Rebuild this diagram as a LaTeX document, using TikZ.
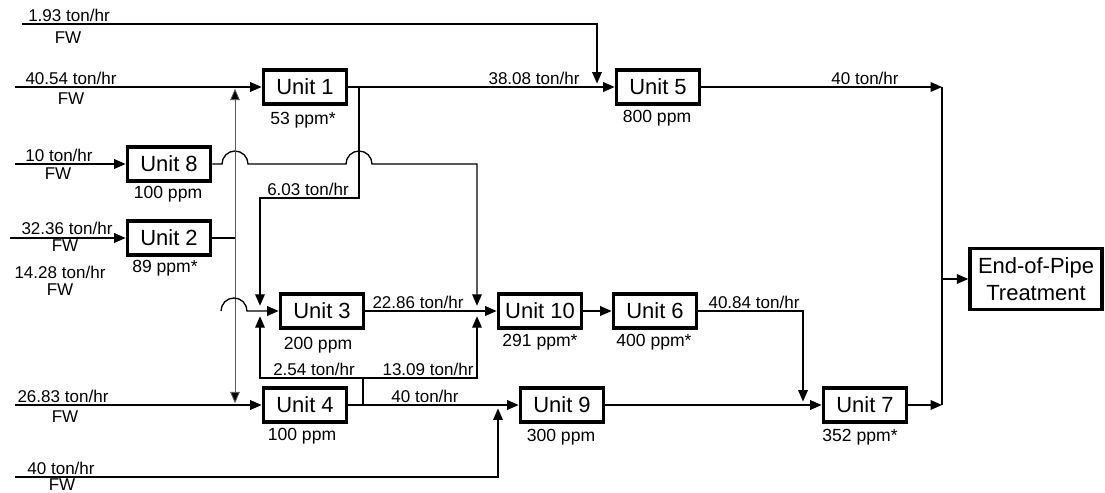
\documentclass[tikz,border=0pt]{standalone}
\usepackage{fontspec}
\setmainfont{Liberation Sans}
\usetikzlibrary{arrows.meta}
\newcommand{\hop}{0.26cm}

\begin{document}
\begin{tikzpicture}[x=0.02cm,y=-0.02cm,
  unit/.style={draw,line width=2.2pt,minimum width=1.66cm,minimum height=0.68cm,inner sep=0pt,font=\fontsize{12.5}{14}\selectfont},
  lbl/.style={anchor=south,inner sep=1pt,font=\fontsize{9.7}{11}\selectfont},
  fwl/.style={inner sep=0pt,font=\fontsize{9.7}{11}\selectfont},
  ppm/.style={inner sep=0pt,font=\fontsize{10}{12}\selectfont},
  pipe/.style={line width=0.75pt},
  flow/.style={pipe,-{Triangle[length=6.5pt,width=5.5pt]}},
  feed/.style={line width=0.5pt,black!65,-{Triangle[length=6.5pt,width=5.5pt,fill=black]}}]
\useasboundingbox (0,0) rectangle (1105,493);

% units
\node[unit] (u1) at (305,87) {Unit 1};
\node[unit] (u8) at (169,164) {Unit 8};
\node[unit] (u2) at (169,238) {Unit 2};
\node[unit] (u3) at (322,311) {Unit 3};
\node[unit] (u4) at (305,405) {Unit 4};
\node[unit] (u5) at (658,87) {Unit 5};
\node[unit] (u10) at (540,311) {Unit 10};
\node[unit] (u6) at (655,311) {Unit 6};
\node[unit] (u9) at (562,405) {Unit 9};
\node[unit] (u7) at (865,405) {Unit 7};
\node[draw,line width=2pt,minimum width=2.64cm,minimum height=1.22cm,align=center,
  font=\fontsize{12.5}{15}\selectfont] (eop) at (1036,279) {End-of-Pipe\\Treatment};

% concentrations
\node[ppm] at (303,120) {53 ppm*};
\node[ppm] at (168,194) {100 ppm};
\node[ppm] at (165,268) {89 ppm*};
\node[ppm] at (318,345) {200 ppm};
\node[ppm] at (302,436) {100 ppm};
\node[ppm] at (657,118) {800 ppm};
\node[ppm] at (540,342) {291 ppm*};
\node[ppm] at (654,342) {400 ppm*};
\node[ppm] at (561,437) {300 ppm};
\node[ppm] at (860,437) {352 ppm*};

% fresh water inlets
\coordinate (fwA) at (22,24);
\coordinate (fw1) at (15,87);
\coordinate (fw8) at (15,164);
\coordinate (fw2) at (10,238);
\coordinate (fw3) at (221,311);
\coordinate (fw4) at (15,405);
\coordinate (fw9) at (15,477);
% junctions
\coordinate (m5) at (597,87);
\coordinate (m3) at (260,311);
\coordinate (m10) at (477,311);
\coordinate (m9) at (498,405);
\coordinate (m7) at (803,405);
\coordinate (s1) at (359,87);
\coordinate (s2) at (235,238);
\coordinate (s4) at (363,405);
\coordinate (k603) at (260,198);
\coordinate (k254) at (260,378);
\coordinate (k1309) at (477,378);
\coordinate (c8) at (477,164);
\coordinate (h1) at (235,164);
\coordinate (h2) at (359,164);
\coordinate (jT) at (942,87);
\coordinate (jB) at (942,405);
\coordinate (jE) at (942,279);

\node[lbl] at (69,24) {1.93 ton/hr};
\node[fwl] at (68,38) {FW};
\node[lbl] at (71,87) {40.54 ton/hr};
\node[fwl] at (71,99) {FW};
\node[lbl] at (59,164) {10 ton/hr};
\node[fwl] at (58,174) {FW};
\node[lbl] at (67,237) {32.36 ton/hr};
\node[fwl] at (65,246) {FW};
\node[fwl] at (60,272) {14.28 ton/hr};
\node[fwl] at (60,290) {FW};
\node[lbl] at (63,405) {26.83 ton/hr};
\node[fwl] at (65,417) {FW};
\node[lbl] at (61,477) {40 ton/hr};
\node[fwl] at (62,485) {FW};

\node[lbl] at (534,87) {38.08 ton/hr};
\node[lbl] at (865,87) {40 ton/hr};
\node[lbl] at (308,198) {6.03 ton/hr};
\node[lbl] at (418,311) {22.86 ton/hr};
\node[lbl] at (754,311) {40.84 ton/hr};
\node[lbl] at (314,378) {2.54 ton/hr};
\node[lbl] at (428,378) {13.09 ton/hr};
\node[lbl] at (425,405) {40 ton/hr};

% streams
\draw[flow] (fwA) -| ([yshift=2pt]m5);
\draw[flow] (fw1) -- (u1.west);
\draw[flow] (u1.east) -- (u5.west);
\draw[flow] (s1) |- (k603) -- ([yshift=3pt]m3);
\draw[flow] (fw8) -- (u8.west);
\draw[flow] (u8.east) -- ([xshift=-\hop]h1) arc[start angle=180,end angle=0,radius=\hop]
  -- ([xshift=-\hop]h2) arc[start angle=180,end angle=0,radius=\hop] -- (c8) -- ([yshift=3pt]m10);
\draw[flow] (fw2) -- (u2.west);
\draw[pipe] (u2.east) -- (s2);
\draw[feed,shorten >=1pt] (s2) -- (s2 |- u1.west);
\draw[feed,shorten >=1pt] (s2) -- (s2 |- u4.west);
\draw[flow] (fw3) arc[start angle=180,end angle=0,radius=\hop] -- (u3.west);
\draw[flow] (u3.east) -- (u10.west);
\draw[flow] (fw4) -- (u4.west);
\draw[flow] (u4.east) -- (u9.west);
\draw[flow] (s4) |- (k254) -- ([yshift=-3pt]m3);
\draw[flow] (s4) |- (k1309) -- ([yshift=-3pt]m10);
\draw[flow] (u10.east) -- (u6.west);
\draw[flow] (u6.east) -| ([yshift=2pt]m7);
\draw[flow] (fw9) -| ([yshift=-2pt]m9);
\draw[flow] (u9.east) -- (u7.west);
\draw[flow] (u5.east) -- (jT);
\draw[pipe] (jT) -- (jB);
\draw[flow] (u7.east) -- (jB);
\draw[flow] (jE) -- (eop.west);
\end{tikzpicture}
\end{document}
